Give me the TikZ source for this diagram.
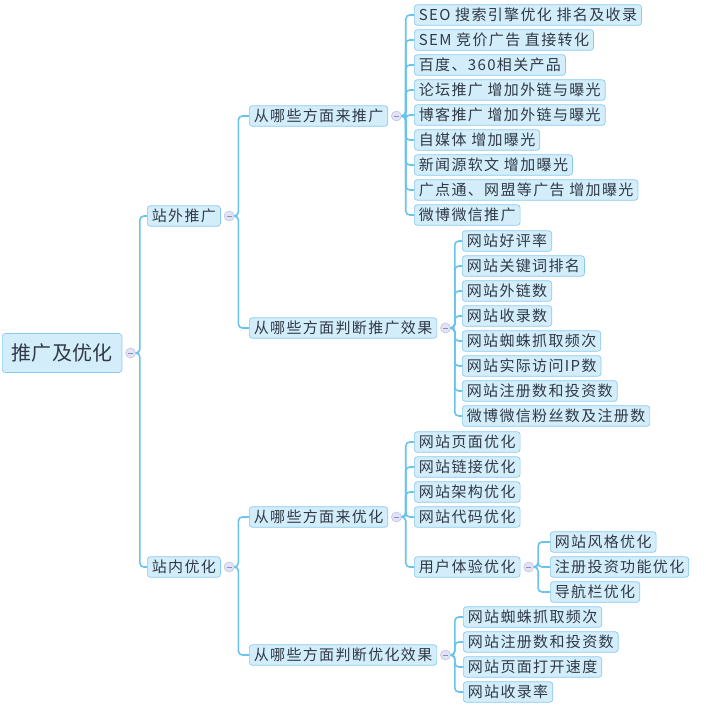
\documentclass[tikz,border=0pt]{standalone}
\usepackage{fontspec}
\newfontfamily\cjk[LetterSpace=9]{Noto Sans CJK SC}
\newfontfamily\cjkroot[LetterSpace=2]{Noto Sans CJK SC}
\usetikzlibrary{positioning}
\definecolor{boxfill}{HTML}{D4EDFB}
\definecolor{boxline}{HTML}{88CBEF}
\definecolor{ink}{HTML}{2F3A46}
\definecolor{wire}{HTML}{68C3EE}
\definecolor{foldfill}{HTML}{E2E2F5}
\definecolor{foldline}{HTML}{C2C2E6}
\definecolor{foldmark}{HTML}{8C8CC2}
\tikzset{
  topic/.style={draw=boxline, fill=boxfill, line width=0.7pt, rounded corners=3pt,
    anchor=west, text=ink, font=\cjk\fontsize{15}{15}\selectfont,
    inner xsep=4.5pt, inner ysep=0pt, minimum height=20.5pt},
  roottopic/.style={topic, font=\cjkroot\fontsize{20}{20}\selectfont,
    inner xsep=9pt, minimum height=39pt},
  fold/.style={circle, draw=foldline, fill=foldfill, line width=0.6pt,
    minimum size=10pt, inner sep=0pt, right=3pt of #1},
  branch/.style={draw=wire, line width=1.6pt, rounded corners=4pt},
}
\newcommand{\foldmark}{\textcolor{foldmark}{\rule[-0.4pt]{5pt}{0.8pt}}}
\begin{document}
\begin{tikzpicture}[x=1pt,y=-1pt] % pixel grid, y runs down
  \useasboundingbox (0,0) rectangle (705,707);
  % root and first level
  \node[roottopic] (root) at (2,353) {推广及优化};
  \node[fold=root] (f0) {\foldmark};
  \node[topic] (zw) at (147,216) {站外推广};
  \node[fold=zw] (fzw) {\foldmark};
  \node[topic] (zn) at (147,567) {站内优化};
  \node[fold=zn] (fzn) {\foldmark};
  \draw[branch] (f0.east) -- ++(4,0) |- (zw.west);
  \draw[branch] (f0.east) -- ++(4,0) |- (zn.west);
  % second level
  \node[topic] (lt) at (249,116) {从哪些方面来推广};
  \node[fold=lt] (flt) {\foldmark};
  \node[topic] (pt) at (249,328) {从哪些方面判断推广效果};
  \node[fold=pt] (fpt) {\foldmark};
  \node[topic] (ly) at (249,517) {从哪些方面来优化};
  \node[fold=ly] (fly) {\foldmark};
  \node[topic] (py) at (249,655) {从哪些方面判断优化效果};
  \node[fold=py] (fpy) {\foldmark};
  \draw[branch] (fzw.east) -- ++(4,0) |- (lt.west);
  \draw[branch] (fzw.east) -- ++(4,0) |- (pt.west);
  \draw[branch] (fzn.east) -- ++(4,0) |- (ly.west);
  \draw[branch] (fzn.east) -- ++(4,0) |- (py.west);
  % how to promote
  \node[topic] (lt1) at (414,15) {SEO 搜索引擎优化 排名及收录};
  \node[topic] (lt2) at (414,40) {SEM 竞价广告 直接转化};
  \node[topic] (lt3) at (414,65) {百度、360相关产品};
  \node[topic] (lt4) at (414,90) {论坛推广 增加外链与曝光};
  \node[topic] (lt5) at (414,115) {博客推广 增加外链与曝光};
  \node[topic] (lt6) at (414,140) {自媒体 增加曝光};
  \node[topic] (lt7) at (414,165) {新闻源软文 增加曝光};
  \node[topic] (lt8) at (414,190) {广点通、网盟等广告 增加曝光};
  \node[topic] (lt9) at (414,215) {微博微信推广};
  \draw[branch] (flt.east) -- ++(4,0) |- (lt1.west);
  \draw[branch] (flt.east) -- ++(4,0) |- (lt2.west);
  \draw[branch] (flt.east) -- ++(4,0) |- (lt3.west);
  \draw[branch] (flt.east) -- ++(4,0) |- (lt4.west);
  \draw[branch] (flt.east) -- ++(4,0) |- (lt5.west);
  \draw[branch] (flt.east) -- ++(4,0) |- (lt6.west);
  \draw[branch] (flt.east) -- ++(4,0) |- (lt7.west);
  \draw[branch] (flt.east) -- ++(4,0) |- (lt8.west);
  \draw[branch] (flt.east) -- ++(4,0) |- (lt9.west);
  % promotion results
  \node[topic] (pt1) at (462,241) {网站好评率};
  \node[topic] (pt2) at (462,266) {网站关键词排名};
  \node[topic] (pt3) at (462,291) {网站外链数};
  \node[topic] (pt4) at (462,316) {网站收录数};
  \node[topic] (pt5) at (462,341) {网站蜘蛛抓取频次};
  \node[topic] (pt6) at (462,366) {网站实际访问IP数};
  \node[topic] (pt7) at (462,391) {网站注册数和投资数};
  \node[topic] (pt8) at (462,416) {微博微信粉丝数及注册数};
  \draw[branch] (fpt.east) -- ++(4,0) |- (pt1.west);
  \draw[branch] (fpt.east) -- ++(4,0) |- (pt2.west);
  \draw[branch] (fpt.east) -- ++(4,0) |- (pt3.west);
  \draw[branch] (fpt.east) -- ++(4,0) |- (pt4.west);
  \draw[branch] (fpt.east) -- ++(4,0) |- (pt5.west);
  \draw[branch] (fpt.east) -- ++(4,0) |- (pt6.west);
  \draw[branch] (fpt.east) -- ++(4,0) |- (pt7.west);
  \draw[branch] (fpt.east) -- ++(4,0) |- (pt8.west);
  % how to optimise
  \node[topic] (ly1) at (414,442) {网站页面优化};
  \node[topic] (ly2) at (414,467) {网站链接优化};
  \node[topic] (ly3) at (414,492) {网站架构优化};
  \node[topic] (ly4) at (414,517) {网站代码优化};
  \node[topic] (ly5) at (414,567) {用户体验优化};
  \node[fold=ly5] (fly5) {\foldmark};
  \draw[branch] (fly.east) -- ++(4,0) |- (ly1.west);
  \draw[branch] (fly.east) -- ++(4,0) |- (ly2.west);
  \draw[branch] (fly.east) -- ++(4,0) |- (ly3.west);
  \draw[branch] (fly.east) -- ++(4,0) |- (ly4.west);
  \draw[branch] (fly.east) -- ++(4,0) |- (ly5.west);
  \node[topic] (ux1) at (550,542) {网站风格优化};
  \node[topic] (ux2) at (550,567) {注册投资功能优化};
  \node[topic] (ux3) at (550,592) {导航栏优化};
  \draw[branch] (fly5.east) -- ++(4,0) |- (ux1.west);
  \draw[branch] (fly5.east) -- ++(4,0) |- (ux2.west);
  \draw[branch] (fly5.east) -- ++(4,0) |- (ux3.west);
  % optimisation results
  \node[topic] (py1) at (463,617) {网站蜘蛛抓取频次};
  \node[topic] (py2) at (463,642) {网站注册数和投资数};
  \node[topic] (py3) at (463,667) {网站页面打开速度};
  \node[topic] (py4) at (463,692) {网站收录率};
  \draw[branch] (fpy.east) -- ++(4,0) |- (py1.west);
  \draw[branch] (fpy.east) -- ++(4,0) |- (py2.west);
  \draw[branch] (fpy.east) -- ++(4,0) |- (py3.west);
  \draw[branch] (fpy.east) -- ++(4,0) |- (py4.west);
\end{tikzpicture}
\end{document}
